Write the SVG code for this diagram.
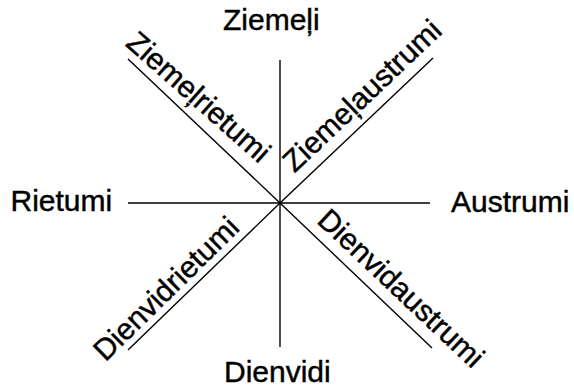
<svg xmlns="http://www.w3.org/2000/svg" width="574" height="388" viewBox="0 0 574 388">
<style>
.lbl{font-family:"Liberation Sans",Arial,sans-serif;font-size:30px;fill:#000;stroke:#000;stroke-width:0.45}
.ln{stroke:#000;stroke-width:1.4;fill:none}
</style>
<rect width="574" height="388" fill="#fff"/>
<g id="connectors">
<line class="ln" x1="280" y1="60" x2="280" y2="347"/>
<line class="ln" x1="128" y1="203" x2="430" y2="203"/>
<line class="ln" x1="128" y1="59" x2="280" y2="203"/>
<line class="ln" x1="280" y1="203" x2="433" y2="58"/>
<line class="ln" x1="280" y1="203" x2="128" y2="350"/>
<line class="ln" x1="280" y1="203" x2="432" y2="348"/>
</g>
<g id="n-ziemeli"><text class="lbl" x="223" y="30">Ziemeļi</text></g>
<g id="n-rietumi"><text class="lbl" x="10.5" y="211">Rietumi</text></g>
<g id="n-austrumi"><text class="lbl" x="451" y="212">Austrumi</text></g>
<g id="n-dienvidi"><text class="lbl" x="224" y="382">Dienvidi</text></g>
<g id="n-ziemelrietumi"><text class="lbl" transform="translate(124.5,45) rotate(41.5)">Ziemeļrietumi</text></g>
<g id="n-ziemelaustrumi"><text class="lbl" transform="translate(294.5,173.5) rotate(-43.4)">Ziemeļaustrumi</text></g>
<g id="n-dienvidrietumi"><text class="lbl" transform="translate(105.4,362.6) rotate(-44.5)">Dienvidrietumi</text></g>
<g id="n-dienvidaustrumi"><text class="lbl" transform="translate(315.8,221.9) rotate(43.3)">Dienvidaustrumi</text></g>
</svg>
